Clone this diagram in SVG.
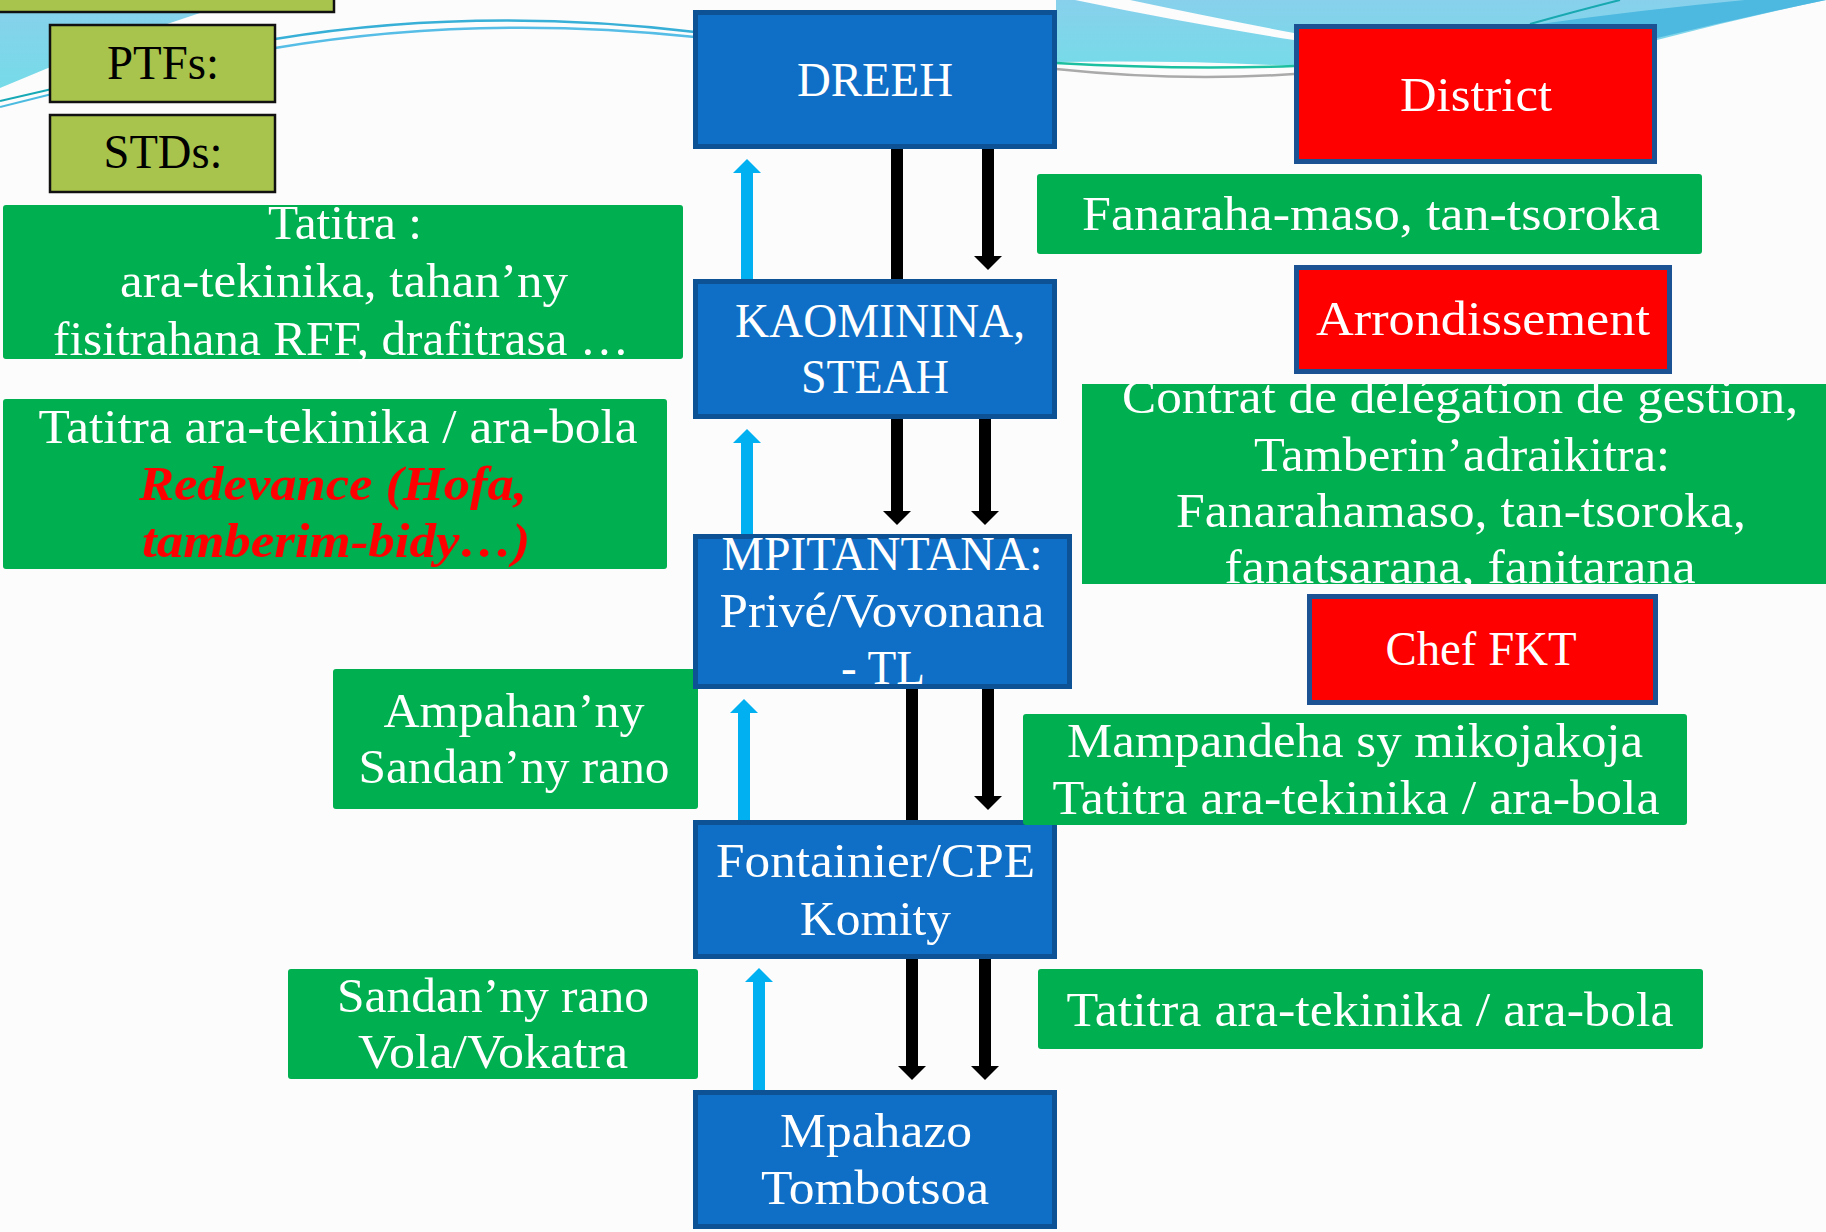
<svg xmlns="http://www.w3.org/2000/svg" width="1826" height="1232" viewBox="0 0 1826 1232">
<style>
.t{font-family:"Liberation Serif","Times New Roman",serif;font-size:48px;fill:#fff;text-anchor:middle}
.k{fill:#000}
.ri{fill:#ff0000;font-weight:bold;font-style:italic}
.blue{fill:#0f6fc6;stroke:#0c5294;stroke-width:5}
.red{fill:#ff0000;stroke:#1a5294;stroke-width:5}
.green{fill:#00b050}
.olive{fill:#a9c44c;stroke:#111;stroke-width:2.5}
.blk{stroke:#000;stroke-width:12;fill:none}
.cy{stroke:#00b0f0;stroke-width:12;fill:none}
</style>
<defs>
<marker id="ah" markerUnits="userSpaceOnUse" markerWidth="30" markerHeight="30" viewBox="0 -15 15 30" refX="0" refY="0" orient="auto">
<path d="M0,-14 L14,0 L0,14 Z" fill="#000"/>
</marker>
<marker id="ahc" markerUnits="userSpaceOnUse" markerWidth="30" markerHeight="30" viewBox="0 -15 15 30" refX="0" refY="0" orient="auto">
<path d="M0,-14 L14,0 L0,14 Z" fill="#00b0f0"/>
</marker>
<clipPath id="cc"><rect x="1082" y="384" width="748" height="200"/></clipPath>
<linearGradient id="gl" x1="0" y1="0" x2="0" y2="1">
<stop offset="0" stop-color="#88d0ec"/><stop offset="1" stop-color="#76dbe8"/>
</linearGradient>
</defs>

<rect width="1826" height="1232" fill="#fcfcfc"/>

<g id="background">
<path d="M0,0 L320,0 L200,13 Q100,45 0,88 Z" fill="url(#gl)"/>
<path d="M0,101 L52,89" stroke="#17a9b5" stroke-width="2" fill="none"/>
<path d="M0,107 L52,94" stroke="#4cbbe0" stroke-width="2" fill="none"/>
<path d="M275,39 Q477,6 695,32" stroke="#38afd6" stroke-width="2.5" fill="none"/>
<path d="M275,48 Q477,14 695,37" stroke="#55bde6" stroke-width="2.5" fill="none"/>
<path d="M1056,0 H1826 Q1740,18 1657,40 L1294,66 Q1180,60 1056,62 Z" fill="url(#gl)"/>
<path d="M1075,0 L1130,0 Q1215,18 1294,33 L1294,40 Q1180,22 1075,0 Z" fill="#fcfcfc"/>
<path d="M1540,24 Q1640,10 1745,0 L1826,0 Q1740,18 1657,38 L1657,24 Z" fill="#4db8e0"/>
<path d="M1530,24 Q1580,10 1620,0" stroke="#18a8b0" stroke-width="2" fill="none"/>
<path d="M1056,63 Q1180,70 1294,66" stroke="#1cc0a0" stroke-width="2.5" fill="none"/>
<path d="M1056,69 Q1180,82 1294,74" stroke="#aaaaaa" stroke-width="2.5" fill="none"/>
</g>

<g id="connectors">
<line class="blk" x1="897" y1="149" x2="897" y2="279"/>
<line class="blk" x1="988" y1="144" x2="988" y2="256" marker-end="url(#ah)"/>
<line class="cy" x1="747" y1="285" x2="747" y2="173" marker-end="url(#ahc)"/>

<line class="blk" x1="897" y1="419" x2="897" y2="511" marker-end="url(#ah)"/>
<line class="blk" x1="985" y1="414" x2="985" y2="511" marker-end="url(#ah)"/>
<line class="cy" x1="747" y1="538" x2="747" y2="443" marker-end="url(#ahc)"/>

<line class="blk" x1="912" y1="689" x2="912" y2="820"/>
<line class="blk" x1="988" y1="684" x2="988" y2="796" marker-end="url(#ah)"/>
<line class="cy" x1="744" y1="820" x2="744" y2="713" marker-end="url(#ahc)"/>

<line class="blk" x1="912" y1="959" x2="912" y2="1066" marker-end="url(#ah)"/>
<line class="blk" x1="985" y1="954" x2="985" y2="1066" marker-end="url(#ah)"/>
<line class="cy" x1="759" y1="1095" x2="759" y2="982" marker-end="url(#ahc)"/>
</g>

<g id="top-bar"><rect class="olive" x="-3" y="-3" width="337" height="15"/></g>
<g id="ptfs"><rect class="olive" x="50" y="25" width="225" height="77"/>
<text class="t k" x="163" y="79" textLength="112" lengthAdjust="spacingAndGlyphs">PTFs:</text></g>
<g id="stds"><rect class="olive" x="50" y="115" width="225" height="77"/>
<text class="t k" x="163" y="168" textLength="119" lengthAdjust="spacingAndGlyphs">STDs:</text></g>

<g id="tatitra1"><rect class="green" x="3" y="205" width="680" height="154" rx="3"/>
<text class="t" x="345" y="239" textLength="154" lengthAdjust="spacingAndGlyphs">Tatitra :</text>
<text class="t" x="344" y="297" textLength="448" lengthAdjust="spacingAndGlyphs">ara-tekinika, tahan’ny</text>
<text class="t" x="341" y="355" textLength="576" lengthAdjust="spacingAndGlyphs">fisitrahana RFF, drafitrasa …</text></g>

<g id="tatitra2"><rect class="green" x="3" y="399" width="664" height="170" rx="3"/>
<text class="t" x="338" y="443" textLength="599" lengthAdjust="spacingAndGlyphs">Tatitra ara-tekinika / ara-bola</text>
<text class="t ri" x="333" y="500" textLength="388" lengthAdjust="spacingAndGlyphs">Redevance (Hofa,</text>
<text class="t ri" x="336" y="557" textLength="388" lengthAdjust="spacingAndGlyphs">tamberim-bidy…)</text></g>

<g id="ampahany"><rect class="green" x="333" y="669" width="365" height="140" rx="3"/>
<text class="t" x="514" y="727" textLength="261" lengthAdjust="spacingAndGlyphs">Ampahan’ny</text>
<text class="t" x="514" y="783" textLength="311" lengthAdjust="spacingAndGlyphs">Sandan’ny rano</text></g>

<g id="sandany"><rect class="green" x="288" y="969" width="410" height="110" rx="3"/>
<text class="t" x="493" y="1012" textLength="312" lengthAdjust="spacingAndGlyphs">Sandan’ny rano</text>
<text class="t" x="493" y="1068" textLength="270" lengthAdjust="spacingAndGlyphs">Vola/Vokatra</text></g>

<g id="dreeh"><rect class="blue" x="695.5" y="12.5" width="359" height="134"/>
<text class="t" x="875" y="96" textLength="156" lengthAdjust="spacingAndGlyphs">DREEH</text></g>

<g id="kaominina"><rect class="blue" x="695.5" y="281.5" width="359" height="135"/>
<text class="t" x="880" y="337" textLength="290" lengthAdjust="spacingAndGlyphs">KAOMININA,</text>
<text class="t" x="875" y="393" textLength="148" lengthAdjust="spacingAndGlyphs">STEAH</text></g>

<g id="mpitantana"><rect class="blue" x="695.5" y="536.5" width="374" height="150"/>
<text class="t" x="882" y="570" textLength="321" lengthAdjust="spacingAndGlyphs">MPITANTANA:</text>
<text class="t" x="882" y="627" textLength="325" lengthAdjust="spacingAndGlyphs">Privé/Vovonana</text>
<text class="t" x="883" y="684" textLength="84" lengthAdjust="spacingAndGlyphs">- TL</text></g>

<g id="fontainier"><rect class="blue" x="695.5" y="822.5" width="359" height="134"/>
<text class="t" x="875.5" y="877" textLength="319" lengthAdjust="spacingAndGlyphs">Fontainier/CPE</text>
<text class="t" x="875.5" y="935" textLength="151" lengthAdjust="spacingAndGlyphs">Komity</text></g>

<g id="mpahazo"><rect class="blue" x="695.5" y="1092.5" width="359" height="134"/>
<text class="t" x="876" y="1147" textLength="192" lengthAdjust="spacingAndGlyphs">Mpahazo</text>
<text class="t" x="875" y="1204" textLength="228" lengthAdjust="spacingAndGlyphs">Tombotsoa</text></g>

<g id="district"><rect class="red" x="1296.5" y="26.5" width="358" height="135"/>
<text class="t" x="1476" y="111" textLength="152" lengthAdjust="spacingAndGlyphs">District</text></g>

<g id="fanaraha"><rect class="green" x="1037" y="174" width="665" height="80" rx="3"/>
<text class="t" x="1371" y="230" textLength="578" lengthAdjust="spacingAndGlyphs">Fanaraha-maso, tan-tsoroka</text></g>

<g id="arrondissement"><rect class="red" x="1296.5" y="267.5" width="373" height="104"/>
<text class="t" x="1483" y="335" textLength="334" lengthAdjust="spacingAndGlyphs">Arrondissement</text></g>

<g id="contrat" clip-path="url(#cc)"><rect class="green" x="1082" y="384" width="748" height="200"/>
<text class="t" x="1460" y="413" textLength="676" lengthAdjust="spacingAndGlyphs">Contrat de délégation de gestion,</text>
<text class="t" x="1462" y="471" textLength="416" lengthAdjust="spacingAndGlyphs">Tamberin’adraikitra:</text>
<text class="t" x="1461" y="527" textLength="570" lengthAdjust="spacingAndGlyphs">Fanarahamaso, tan-tsoroka,</text>
<text class="t" x="1460" y="583" textLength="471" lengthAdjust="spacingAndGlyphs">fanatsarana, fanitarana</text></g>

<g id="cheffkt"><rect class="red" x="1309.5" y="596.5" width="346" height="106"/>
<text class="t" x="1481" y="665" textLength="191" lengthAdjust="spacingAndGlyphs">Chef FKT</text></g>

<g id="mampandeha"><rect class="green" x="1023" y="714" width="664" height="111" rx="3"/>
<text class="t" x="1355" y="757" textLength="576" lengthAdjust="spacingAndGlyphs">Mampandeha sy mikojakoja</text>
<text class="t" x="1356" y="814" textLength="607" lengthAdjust="spacingAndGlyphs">Tatitra ara-tekinika / ara-bola</text></g>

<g id="tatitra3"><rect class="green" x="1038" y="969" width="665" height="80" rx="3"/>
<text class="t" x="1370" y="1026" textLength="607" lengthAdjust="spacingAndGlyphs">Tatitra ara-tekinika / ara-bola</text></g>
</svg>
